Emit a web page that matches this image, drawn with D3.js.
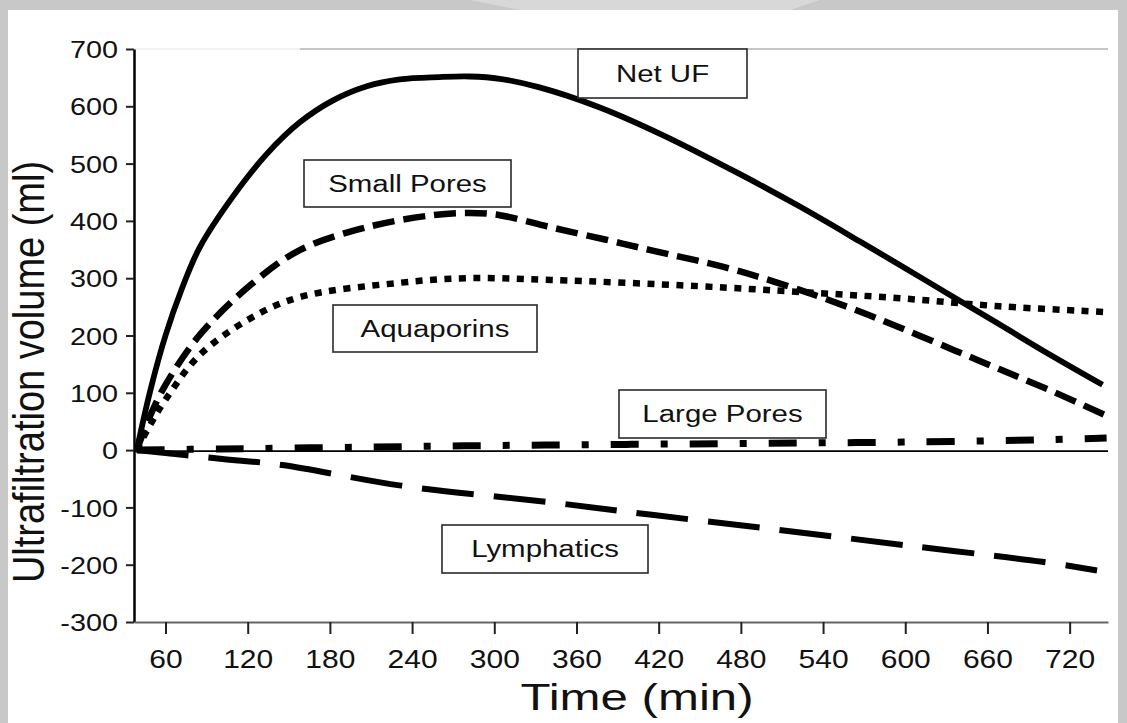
<!DOCTYPE html>
<html>
<head>
<meta charset="utf-8">
<script src="https://cdn.jsdelivr.net/npm/d3@7"></script>
<style>
  html, body { margin: 0; padding: 0; background: #c8c8c8; }
  svg { display: block; }
  text { font-family: "Liberation Sans", Arial, sans-serif; fill: #111; }
</style>
</head>
<body>
<svg id="chart" width="1127" height="723"></svg>
<script>
// Axis ticks
const xTicks = [60, 120, 180, 240, 300, 360, 420, 480, 540, 600, 660, 720];
const yTicks = [-300, -200, -100, 0, 100, 200, 300, 400, 500, 600, 700];

// Cumulative volumes (ml) against dwell time (min)
const netUF = [[39,0],[49,105],[60,200],[72,282],[85,354],[109,442],[134,517],[158,572],[182,610],
  [207,635],[231,647],[260,651],[282,652],[304,648],[333,633],[377,598],[421,552],[479,482],
  [523,425],[567,364],[596,323],[636,266],[669,219],[706,166],[744,114]];
const smallPores = [[39,0],[49,61],[60,114],[85,201],[122,288],[158,349],[207,389],[255,410],
  [282,414],[304,410],[341,389],[380,368],[414,349],[470,318],[516,285],[560,248],[596,214],
  [636,174],[669,141],[706,104],[746,61]];
const aquaporins = [[39,0],[49,45],[60,88],[85,166],[122,230],[158,267],[231,292],[280,300],
  [341,297],[450,286],[523,276],[596,265],[669,251],[746,241]];
const largePores = [[39,0],[100,2],[200,5],[300,8],[400,10],[500,12],[600,14],[700,18],[747,21]];
const lymphatics = [[39,0],[100,-15],[145,-26],[232,-62],[344,-92],[415,-113],[500,-137],
  [600,-166],[700,-195],[740,-210]];

// Series labels
const labels = ["Net UF", "Small Pores", "Aquaporins", "Large Pores", "Lymphatics"];

const svg = d3.select("#chart");
const W = 1127, H = 723;

// panel
svg.append("rect").attr("width", W).attr("height", H).attr("fill", "#c8c8c8");
svg.append("path").attr("d", "M470,0 L820,0 L790,10 L520,10 Z").attr("fill", "#d8d8d8");
svg.append("rect").attr("x", 8).attr("y", 10).attr("width", 1110).attr("height", H - 10).attr("fill", "#fff");

const x = d3.scaleLinear().domain([37, 748]).range([134, 1108]);
const y = d3.scaleLinear().domain([-300, 700]).range([622, 49]);

// faint frame line along the top of the plot
svg.append("line").attr("x1", 134).attr("x2", 300).attr("y1", y(700)).attr("y2", y(700))
  .attr("stroke", "#eee").attr("stroke-width", 1.5);
svg.append("line").attr("x1", 300).attr("x2", 1108).attr("y1", y(700)).attr("y2", y(700))
  .attr("stroke", "#b5b5b5").attr("stroke-width", 1.5);

// zero reference line
svg.append("line").attr("x1", 134).attr("x2", 1108).attr("y1", y(0) + 1).attr("y2", y(0) + 1)
  .attr("stroke", "#000").attr("stroke-width", 1.6);

// y axis
const gy = svg.append("g").attr("transform", "translate(134,0)")
  .call(d3.axisLeft(y).tickValues(yTicks).tickFormat(d => String(d)).tickSize(8).tickSizeOuter(0));
gy.select(".domain").attr("stroke", "#000").attr("stroke-width", 2.5);
gy.selectAll(".tick line").attr("stroke", "#222").attr("stroke-width", 2);
gy.selectAll(".tick text")
  .attr("x", null).attr("dy", "0.36em")
  .attr("transform", "translate(-16,0) scale(1.2,1)")
  .style("font-size", "24px").style("font-family", "Liberation Sans, Arial, sans-serif")
  .attr("fill", "#1a1a1a");

// x axis
const gx = svg.append("g").attr("transform", "translate(0,622)")
  .call(d3.axisBottom(x).tickValues(xTicks).tickFormat(d => String(d)).tickSize(12).tickSizeOuter(0));
gx.select(".domain").attr("stroke", "#666").attr("stroke-width", 2);
gx.selectAll(".tick line").attr("stroke", "#222").attr("stroke-width", 2);
gx.selectAll(".tick text")
  .attr("y", null).attr("dy", null)
  .attr("transform", "translate(0,46) scale(1.2,1)")
  .style("font-size", "25px").style("font-family", "Liberation Sans, Arial, sans-serif")
  .attr("fill", "#1a1a1a");

// axis titles
svg.append("text")
  .attr("transform", "translate(637,710) scale(1.33,1)")
  .attr("text-anchor", "middle")
  .style("font-size", "37px")
  .text("Time (min)");
svg.append("text")
  .attr("transform", "translate(44,372) scale(1.15,1) rotate(-90)")
  .attr("text-anchor", "middle")
  .style("font-size", "38px")
  .text("Ultrafiltration volume (ml)");

// curves
const line = d3.line().x(d => x(d[0])).y(d => y(d[1])).curve(d3.curveCatmullRom.alpha(0.5));
const series = [
  { data: lymphatics, dash: "52,20", width: 6 },
  { data: largePores, dash: "28,22,7,22", width: 7 },
  { data: aquaporins, dash: "7,7.5", width: 6.5 },
  { data: smallPores, dash: "22,9", width: 6.5 },
  { data: netUF, dash: null, width: 5.8 }
];
svg.append("g").selectAll("path").data(series).join("path")
  .attr("d", d => line(d.data))
  .attr("fill", "none")
  .attr("stroke", "#000")
  .attr("stroke-width", d => d.width)
  .attr("stroke-dasharray", d => d.dash)
  .attr("stroke-linecap", "butt")
  .attr("stroke-linejoin", "round");

// boxed series labels
const boxes = [
  { x0: 578, x1: 747, y0: 49, y1: 98 },
  { x0: 304, x1: 511, y0: 160, y1: 207 },
  { x0: 333, x1: 537, y0: 305, y1: 352 },
  { x0: 619, x1: 826, y0: 390, y1: 438 },
  { x0: 442, x1: 648, y0: 525, y1: 573 }
];
const gb = svg.append("g").selectAll("g").data(labels).join("g");
gb.append("rect")
  .attr("x", (d, i) => boxes[i].x0).attr("y", (d, i) => boxes[i].y0)
  .attr("width", (d, i) => boxes[i].x1 - boxes[i].x0)
  .attr("height", (d, i) => boxes[i].y1 - boxes[i].y0)
  .attr("fill", "#fff").attr("stroke", "#2a2a2a").attr("stroke-width", 1.6);
gb.append("text")
  .attr("transform", (d, i) => `translate(${(boxes[i].x0 + boxes[i].x1) / 2},${(boxes[i].y0 + boxes[i].y1) / 2 + 8}) scale(1.28,1)`)
  .attr("text-anchor", "middle")
  .style("font-size", "23px")
  .text(d => d);
</script>
</body>
</html>
